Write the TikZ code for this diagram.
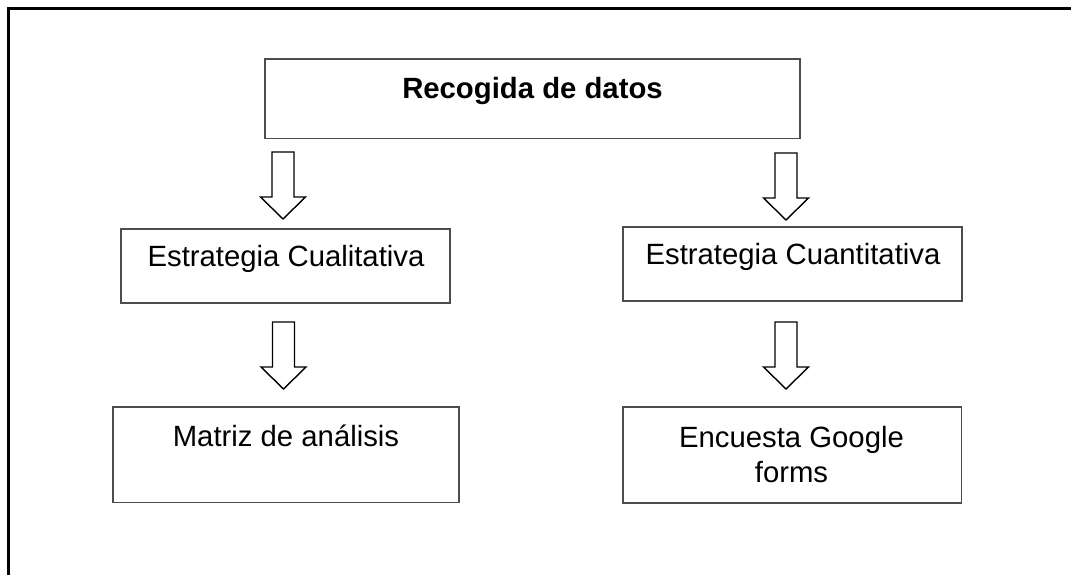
\documentclass[tikz,border=0pt]{standalone}
\usepackage{fontspec}
\setmainfont{Liberation Sans}
\definecolor{boxgray}{HTML}{4D4D4D}
\newcommand\hollowarrow[2]{%
  \draw[blk] ({#1-11},{#2}) -- ({#1+11},{#2}) -- ({#1+11},{#2+45}) -- ({#1+22.5},{#2+45})
    -- ({#1},{#2+67}) -- ({#1-22.5},{#2+45}) -- ({#1-11},{#2+45}) -- cycle;}
\begin{document}
\begin{tikzpicture}[x=1pt,y=-1pt,
  box/.style={draw=boxgray,line width=1.4pt,inner sep=0pt,outer sep=0pt},
  lbl/.style={anchor=base,inner sep=0pt,font=\fontsize{29.3}{35}\selectfont},
  blk/.style={draw=black,line width=1.4pt,fill=white,miter limit=10}]
\useasboundingbox (0,0) rectangle (1071,575);
\draw[line width=3pt,line join=miter] (8.5,575) -- (8.5,8.5) -- (1071,8.5);
% boxes
\node[box,minimum width=535pt,minimum height=79.5pt] (top) at (532.5,98.75) {};
\node[box,minimum width=329pt,minimum height=74pt] (cual) at (285.5,266) {};
\node[box,minimum width=339pt,minimum height=74pt] (cuan) at (792.5,264) {};
\node[box,minimum width=346pt,minimum height=95.5pt] (matriz) at (286,454.75) {};
\node[box,minimum width=338.5pt,minimum height=96pt] (enc) at (792.25,455) {};
% texts
\node[lbl] (ttop) at (532.5,99) {\bfseries Recogida de datos};
\node[lbl] (tcual) at (286,266) {Estrategia Cualitativa};
\node[lbl] (tcuan) at (793,264) {Estrategia Cuantitativa};
\node[lbl] (tmatriz) at (286,446) {Matriz de análisis};
\node[lbl] (tenc1) at (791.5,447) {Encuesta Google};
\node[lbl] (tenc2) at (791.5,482) {forms};
% arrows
\hollowarrow{283}{152}
\hollowarrow{786}{153}
\hollowarrow{283.5}{322}
\hollowarrow{786}{322}
\end{tikzpicture}
\end{document}
